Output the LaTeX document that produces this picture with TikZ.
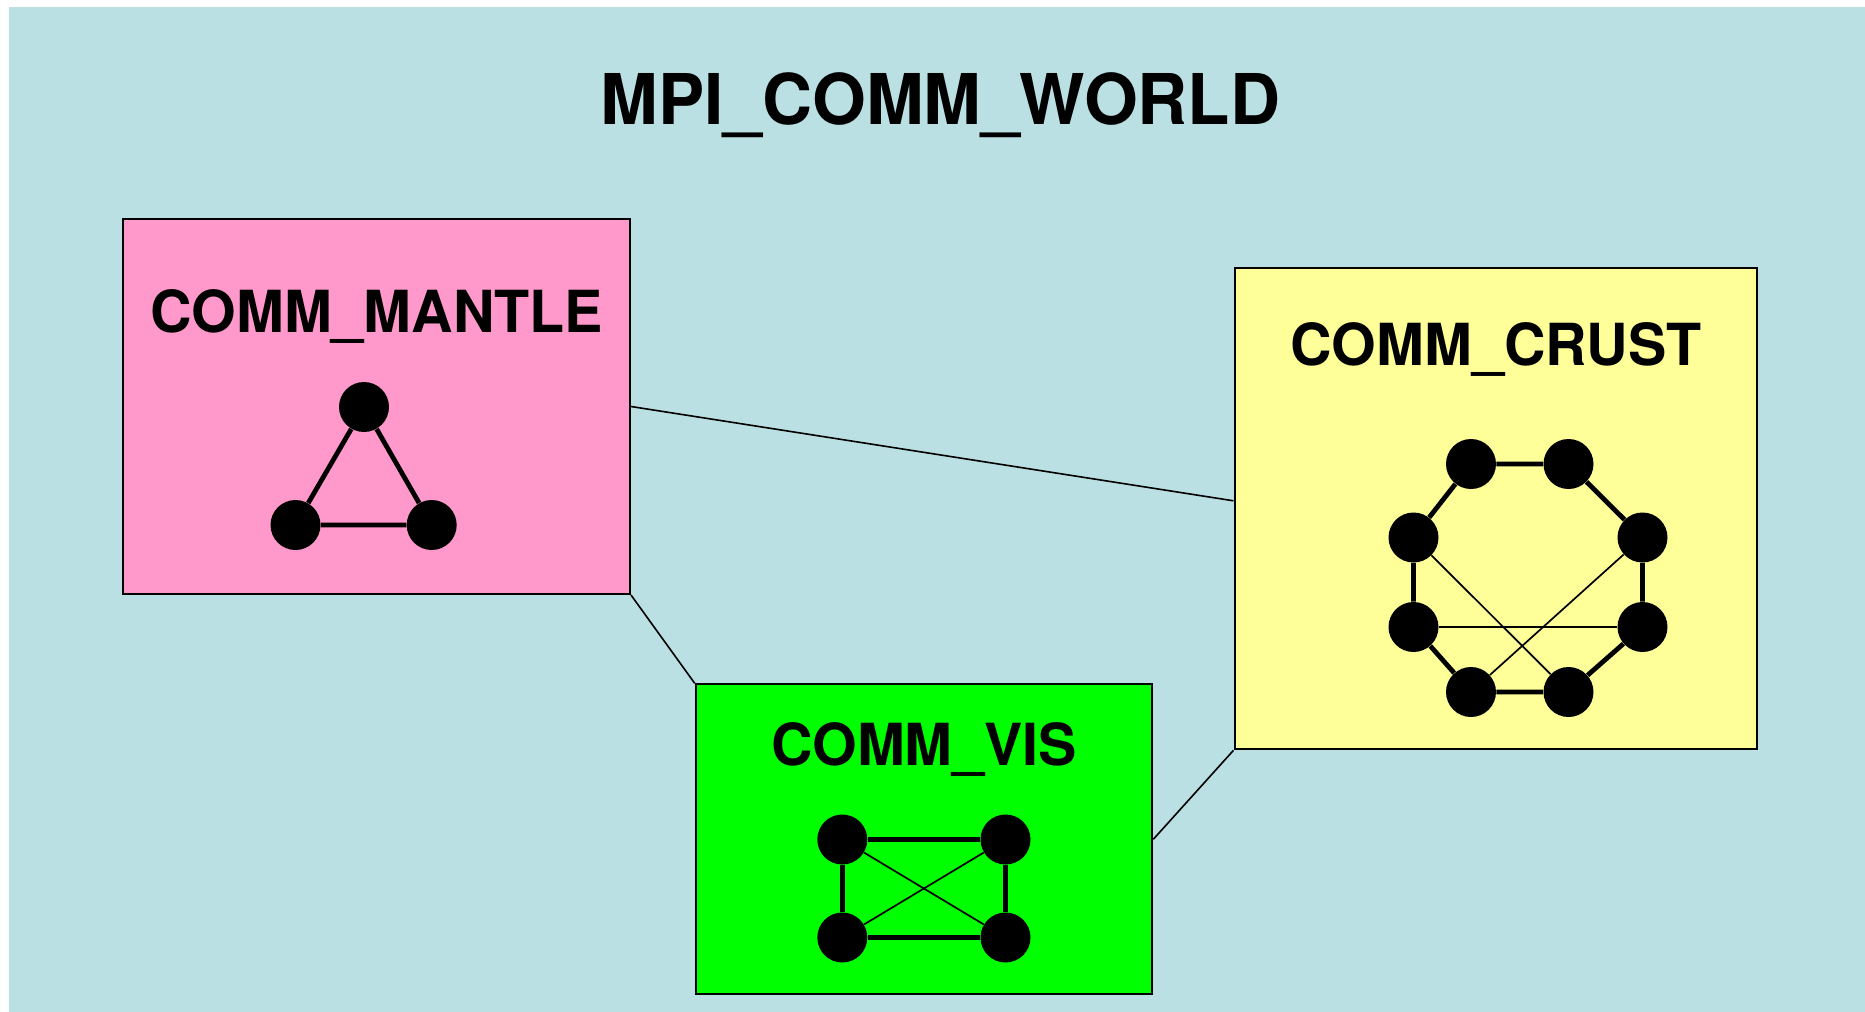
\documentclass[tikz,border=0pt]{standalone}
\usepackage{fontspec}
\setmainfont[FakeStretch=0.99]{TeX Gyre Heros}
\usepackage{xcolor}
\usepackage{tikz}
\usetikzlibrary{calc}
\usetikzlibrary{positioning}
\definecolor{worldbg}{HTML}{BAE0E3}
\definecolor{mantlepink}{HTML}{FF99CC}
\definecolor{crustyellow}{HTML}{FFFF99}
\definecolor{visgreen}{HTML}{00FF00}
\tikzset{
	commbox/.style={draw=black,line width=1pt,rectangle,inner sep=0pt},
	proc/.style={circle,fill=black,inner sep=0pt,minimum size=25pt},
	strong/.style={line width=2.4pt},
	weak/.style={line width=0.85pt},
	commlabel/.style={anchor=base,inner sep=0pt,font=\fontsize{29}{34}\selectfont\bfseries}
}

\begin{document}
\begin{tikzpicture}[x=0.5pt,y=-0.5pt]
		\useasboundingbox (0,0) rectangle (1865,1012);
		\fill[worldbg] (9,7) rectangle (1865,1012);
		\node[anchor=base,inner sep=0pt,font=\fontsize{35}{42}\selectfont\bfseries] (world) at (940.5,124) {MPI\_COMM\_WORLD};

		\node[commbox,fill=mantlepink,minimum width=253.3pt,minimum height=187.5pt] (mantle) at (376.7,406.5) {};
		\node[commbox,fill=crustyellow,minimum width=261.1pt,minimum height=240.5pt] (crust) at (1495.6,508.8) {};
		\node[commbox,fill=visgreen,minimum width=228.3pt,minimum height=155pt] (vis) at (924,839.3) {};

		\draw[line width=0.8pt] (mantle.east) -- ([yshift=4pt]crust.west);
		\draw[line width=0.8pt] (mantle.south east) -- (vis.north west);
		\draw[line width=0.8pt] (vis.east) -- (crust.south west);

		\node[commlabel] (mantle label) at (376.8,332.7) {COMM\_MANTLE};
		\node[commlabel] (crust label) at (1495.9,365) {COMM\_CRUST};
		\node[commlabel] (vis label) at (924.2,765) {COMM\_VIS};

		\node[proc] (m1) at (364,407) {};
		\node[proc] (m2) at (295.5,525) {};
		\node[proc] (m3) at (431.7,525) {};
		\draw[strong] (m1) -- (m2) -- (m3) -- (m1);

		\node[proc] (c1) at (1471,464) {};
		\node[proc] (c2) at (1568.5,464) {};
		\node[proc] (c3) at (1642.5,537.5) {};
		\node[proc] (c4) at (1642.5,627) {};
		\node[proc] (c5) at (1568.5,692) {};
		\node[proc] (c6) at (1471,692) {};
		\node[proc] (c7) at (1413.5,627) {};
		\node[proc] (c8) at (1413.5,537.5) {};
		\draw[strong] (c1) -- (c2) -- (c3) -- (c4) -- (c5) -- (c6) -- (c7) -- (c8) -- (c1);
		\draw[weak] (c8) -- (c5);
		\draw[weak] (c3) -- (c6);
		\draw[weak] (c7) -- (c4);

		\node[proc] (v1) at (842.3,839.5) {};
		\node[proc] (v2) at (1005.5,839.5) {};
		\node[proc] (v3) at (842.3,937.5) {};
		\node[proc] (v4) at (1005.5,937.5) {};
		\draw[strong] (v1) -- (v2) -- (v4) -- (v3) -- (v1);
		\draw[weak] (v1) -- (v4);
		\draw[weak] (v2) -- (v3);
	\end{tikzpicture}
\end{document}
